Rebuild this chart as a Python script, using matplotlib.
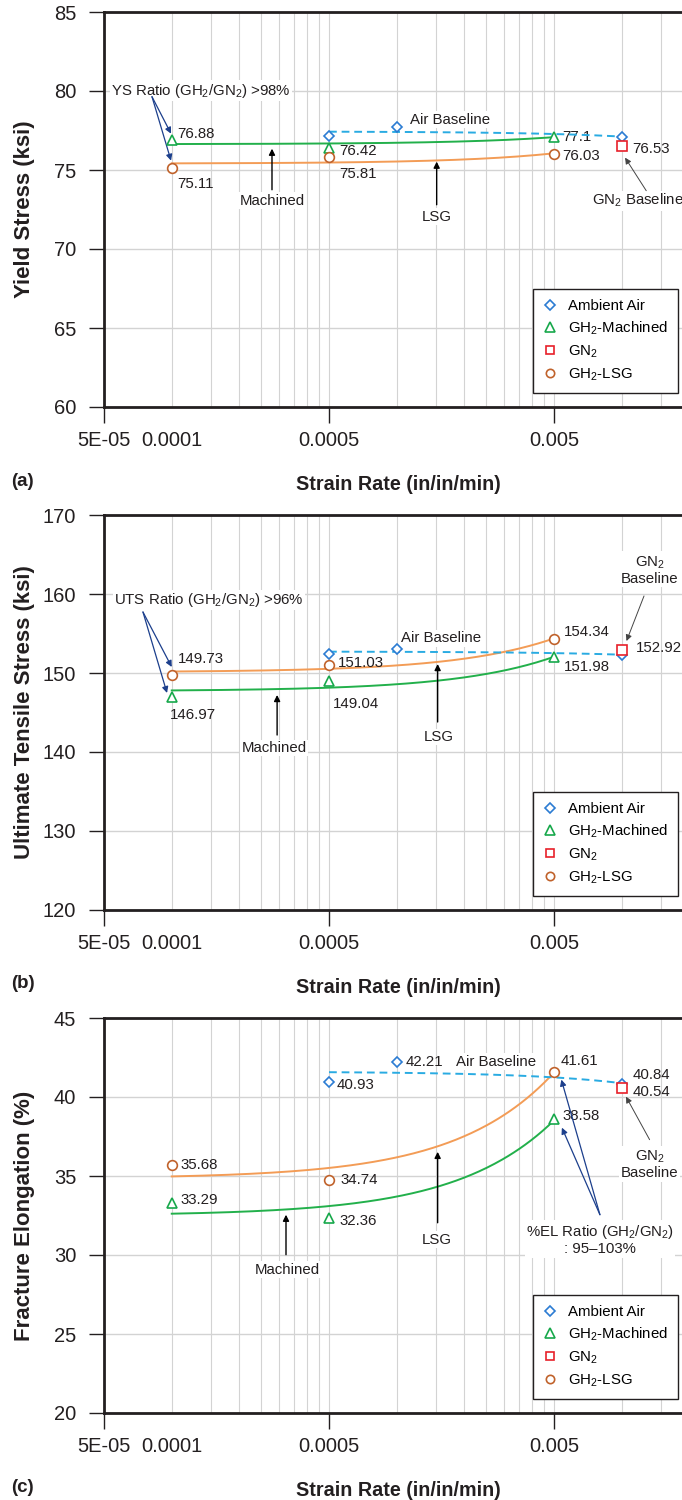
import numpy as np
import matplotlib
matplotlib.use('Agg')
from matplotlib import pyplot as plt
from matplotlib.lines import Line2D
from matplotlib.ticker import NullFormatter

plt.rcParams['font.family'] = ['Liberation Sans', 'DejaVu Sans']
plt.rcParams['mathtext.default'] = 'regular'

# strain rates (in/in/min)
air_rate = [0.0005, 0.001, 0.01]
gh2_rate = [0.0001, 0.0005, 0.005]
gn2_rate = [0.01]

# (a) yield stress (ksi)
ys_air = [77.15, 77.7, 77.1]
ys_mach = [76.88, 76.42, 77.1]
ys_lsg = [75.11, 75.81, 76.03]
ys_gn2 = [76.53]

# (b) ultimate tensile stress (ksi)
uts_air = [152.4, 153.0, 152.3]
uts_mach = [146.97, 149.04, 151.98]
uts_lsg = [149.73, 151.03, 154.34]
uts_gn2 = [152.92]

# (c) fracture elongation (%)
el_air = [40.93, 42.21, 40.84]
el_mach = [33.29, 32.36, 38.58]
el_lsg = [35.68, 34.74, 41.61]
el_gn2 = [40.54]

xtick_vals = [5e-5, 5e-4, 5e-3]
xtick_labels = ['5E-05', '0.0005', '0.005']

c_air = '#2b7cd3'
c_air_line = '#29abe2'
c_mach = '#17a84b'
c_mach_line = '#22b04b'
c_gn2 = '#e8202a'
c_lsg = '#c0622b'
c_lsg_line = '#f39c56'
dark = '#231f20'
navy = '#1c3f8c'
grid_c = '#d3d3d3'

FS_TICK = 14.5
FS_LAB = 10.8

fig = plt.figure(figsize=(6.82, 15), dpi=100)


def make_axes(top, bottom):
    return fig.add_axes([104 / 682, 1 - bottom / 1500, 675 / 682, (bottom - top) / 1500])


def trend(ax, x, y, color, ls='-', z=2):
    k = np.polyfit(x, y, 1)
    xx = np.geomspace(min(x), max(x), 200)
    ax.plot(xx, np.polyval(k, xx), color=color, lw=1.4, ls=ls, zorder=z)


def lab(ax, x, y, dx, dy):
    ax.annotate(f'{y:g}', (x, y), xytext=(dx * 0.72, -dy * 0.72), textcoords='offset points',
                ha='left', va='center', fontsize=FS_LAB, color=dark, zorder=3)


def txt(ax, x, y, s, ha='left'):
    ax.text(x, y, s, ha=ha, va='center', fontsize=FS_LAB, color=dark, zorder=4,
            linespacing=1.1, bbox=dict(facecolor='white', edgecolor='none', pad=1))


def arrow(ax, start, tip, color='black', lw=1.0):
    ax.annotate('', xy=tip, xytext=start,
                arrowprops=dict(arrowstyle='-|>', color=color, lw=lw, shrinkA=0, shrinkB=0,
                                mutation_scale=9), zorder=5)


def panel(top, bottom, ylim, ystep, ylabel, tag, air, mach, lsg, gn2):
    ax = make_axes(top, bottom)
    ax.set_xscale('log')
    ax.set_xlim(5e-5, 5e-2)
    ax.set_ylim(*ylim)
    ax.set_yticks(np.arange(ylim[0], ylim[1] + ystep / 2, ystep))
    ax.set_xticks(xtick_vals)
    ax.set_xticklabels(xtick_labels)
    minors = [k * 5e-5 * 10 ** n for n in range(3) for k in range(2, 10)]
    ax.set_xticks(minors, minor=True)
    ax.xaxis.set_minor_formatter(NullFormatter())
    ax.tick_params(axis='x', which='minor', length=0)
    ax.tick_params(axis='x', which='major', direction='out', length=11.5, width=1,
                   pad=6, labelsize=FS_TICK, colors=dark)
    ax.tick_params(axis='y', which='major', direction='out', length=11, width=1,
                   pad=9, labelsize=FS_TICK, colors=dark)
    ax.annotate('0.0001', xy=(1e-4, 0), xycoords=('data', 'axes fraction'),
                xytext=(0, -17.5), textcoords='offset points', ha='center', va='top',
                fontsize=FS_TICK, color=dark)
    ax.grid(True, which='both', axis='x', color=grid_c, lw=0.8)
    ax.grid(True, which='major', axis='y', color=grid_c, lw=1.0)
    ax.set_axisbelow(True)
    for s in ['left', 'bottom', 'top']:
        ax.spines[s].set_linewidth(2)
        ax.spines[s].set_color(dark)
    ax.spines['right'].set_visible(False)

    trend(ax, gh2_rate, mach, c_mach_line)
    trend(ax, gh2_rate, lsg, c_lsg_line)
    trend(ax, air_rate, air, c_air_line, ls=(0, (4, 2.5)), z=3.5)

    ax.plot(air_rate, air, ls='none', marker='D', ms=5, mfc='white', mec=c_air, mew=1.2, zorder=6)
    ax.plot(gh2_rate, mach, ls='none', marker='^', ms=6.5, mfc='white', mec=c_mach, mew=1.2, zorder=6)
    ax.plot(gn2_rate, gn2, ls='none', marker='s', ms=7, mfc='white', mec=c_gn2, mew=1.2, zorder=6)
    ax.plot(gh2_rate, lsg, ls='none', marker='o', ms=7, mfc='white', mec=c_lsg, mew=1.2, zorder=6)

    handles = [
        Line2D([], [], ls='none', marker='D', ms=5, mfc='white', mec=c_air, mew=1.2, label='Ambient Air'),
        Line2D([], [], ls='none', marker='^', ms=6.5, mfc='white', mec=c_mach, mew=1.2, label='GH$_2$-Machined'),
        Line2D([], [], ls='none', marker='s', ms=6, mfc='white', mec=c_gn2, mew=1.2, label='GN$_2$'),
        Line2D([], [], ls='none', marker='o', ms=6, mfc='white', mec=c_lsg, mew=1.2, label='GH$_2$-LSG'),
    ]
    leg = ax.legend(handles=handles, loc='lower left', bbox_to_anchor=(0.6356, 0.0354),
                    borderaxespad=0, frameon=True, fancybox=False, framealpha=1,
                    edgecolor=dark, fontsize=FS_LAB, handlelength=0.8, handletextpad=0.8,
                    labelspacing=0.42, borderpad=0.7)
    leg.get_frame().set_linewidth(1.0)
    leg.set_zorder(7)

    fig.text(25 / 682, 1 - (top + bottom) / 2 / 1500, ylabel, rotation=90, ha='center', va='center',
             fontsize=16, fontweight='bold', color=dark)
    fig.text(398 / 682, 1 - (bottom + 78) / 1500, 'Strain Rate (in/in/min)', ha='center', va='center',
             fontsize=14.2, fontweight='bold', color=dark)
    fig.text(11 / 682, 1 - (bottom + 74) / 1500, tag, ha='left', va='center',
             fontsize=13.5, fontweight='bold', color=dark)
    return ax


# (a) yield stress
ax = panel(12, 407, (60, 85), 5, 'Yield Stress (ksi)', '(a)', ys_air, ys_mach, ys_lsg, ys_gn2)
for x, y, dx, dy in zip(gh2_rate, ys_mach, [6, 10, 8], [-6.6, 3, 0.5]):
    lab(ax, x, y, dx, dy)
for x, y, dx, dy in zip(gh2_rate, ys_lsg, [6, 10, 8], [15.6, 16.5, 2.5]):
    lab(ax, x, y, dx, dy)
lab(ax, gn2_rate[0], ys_gn2[0], 11, 3.5)
txt(ax, 1.145e-3, 78.18, 'Air Baseline')
txt(ax, 5.37e-5, 80.02, 'YS Ratio (GH$_2$/GN$_2$) >98%')
arrow(ax, (8.17e-5, 79.64), (9.93e-5, 77.30), navy, 0.9)
arrow(ax, (8.17e-5, 79.64), (9.93e-5, 75.59), navy, 0.9)
txt(ax, 2.79e-4, 73.06, 'Machined', ha='center')
arrow(ax, (2.79e-4, 73.75), (2.79e-4, 76.35))
txt(ax, 1.505e-3, 72.04, 'LSG', ha='center')
arrow(ax, (1.505e-3, 72.8), (1.505e-3, 75.53))
txt(ax, 7.37e-3, 73.06, 'GN$_2$ Baseline')
arrow(ax, (1.285e-2, 73.69), (1.035e-2, 75.78), '#444444', 0.7)

# (b) ultimate tensile stress
ax = panel(515, 910, (120, 170), 10, 'Ultimate Tensile Stress (ksi)', '(b)',
           uts_air, uts_mach, uts_lsg, uts_gn2)
for x, y, dx, dy in zip(gh2_rate, uts_mach, [-2, 4, 10], [18, 23, 10]):
    lab(ax, x, y, dx, dy)
for x, y, dx, dy in zip(gh2_rate, uts_lsg, [6, 9, 10], [-16, -2, -7]):
    lab(ax, x, y, dx, dy)
lab(ax, gn2_rate[0], uts_gn2[0], 14, -2)
txt(ax, 1.05e-3, 154.37, 'Air Baseline')
txt(ax, 5.54e-5, 159.24, 'UTS Ratio (GH$_2$/GN$_2$) >96%')
arrow(ax, (7.45e-5, 157.72), (1.0e-4, 150.76), navy, 0.9)
arrow(ax, (7.45e-5, 157.72), (9.53e-5, 147.47), navy, 0.9)
txt(ax, 2.85e-4, 140.51, 'Machined', ha='center')
arrow(ax, (2.94e-4, 142.15), (2.94e-4, 147.22))
txt(ax, 1.53e-3, 141.9, 'LSG', ha='center')
arrow(ax, (1.52e-3, 143.8), (1.52e-3, 151.14))
txt(ax, 1.33e-2, 163.04, 'GN$_2$\nBaseline', ha='center')
arrow(ax, (1.256e-2, 159.75), (1.05e-2, 154.05), '#444444', 0.7)

# (c) fracture elongation
ax = panel(1018, 1413, (20, 45), 5, 'Fracture Elongation (%)', '(c)', el_air, el_mach, el_lsg, el_gn2)
for x, y, dx, dy in zip(air_rate, el_air, [8, 9, 11], [2.5, 0, -9]):
    lab(ax, x, y, dx, dy)
for x, y, dx, dy in zip(gh2_rate, el_mach, [9, 10, 8], [-3, 3, -3]):
    lab(ax, x, y, dx, dy)
for x, y, dx, dy in zip(gh2_rate, el_lsg, [9, 11, 7], [0, 0, -11]):
    lab(ax, x, y, dx, dy)
lab(ax, gn2_rate[0], el_gn2[0], 11, 4)
txt(ax, 1.83e-3, 42.23, 'Air Baseline')
txt(ax, 3.28e-4, 29.07, 'Machined', ha='center')
arrow(ax, (3.22e-4, 30.02), (3.22e-4, 32.55))
txt(ax, 1.505e-3, 30.97, 'LSG', ha='center')
arrow(ax, (1.52e-3, 32.04), (1.52e-3, 36.53))
txt(ax, 1.33e-2, 35.72, 'GN$_2$\nBaseline', ha='center')
arrow(ax, (1.33e-2, 37.30), (1.045e-2, 40.02), '#444444', 0.7)
txt(ax, 8.0e-3, 30.97, '%EL Ratio (GH$_2$/GN$_2$)\n: 95\u2013103%', ha='center')
arrow(ax, (8.0e-3, 32.55), (5.39e-3, 41.10), navy, 0.9)
arrow(ax, (8.0e-3, 32.55), (5.42e-3, 38.06), navy, 0.9)

fig.savefig('out.png', dpi=100)
